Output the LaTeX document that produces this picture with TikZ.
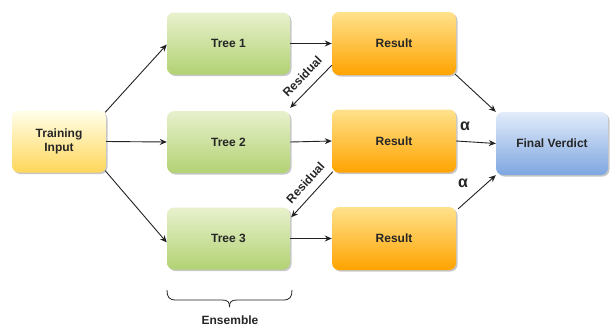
\documentclass[tikz,border=0pt]{standalone}
\usepackage{fontspec}
\setmainfont{Liberation Sans}
\usetikzlibrary{arrows.meta,shadows,calc}
\definecolor{edgec}{HTML}{222222}
\begin{document}
\begin{tikzpicture}[x=1pt,y=-1pt,
  box/.style={rounded corners=7pt, draw=none, font=\fontsize{12}{13.5}\selectfont\bfseries, text=black!85, align=center,
    drop shadow={shadow xshift=1.5pt,shadow yshift=-1.5pt,fill=black,opacity=0.22}},
  inbox/.style={box, minimum width=94pt, minimum height=62pt, top color=yellow!8!white, bottom color={rgb,255:red,255;green,214;blue,90}},
  treebox/.style={box, minimum width=123pt, minimum height=62pt, top color={rgb,255:red,232;green,241;blue,205}, bottom color={rgb,255:red,178;green,210;blue,115}},
  resbox/.style={box, minimum width=124pt, minimum height=63pt, top color={rgb,255:red,255;green,226;blue,140}, bottom color={rgb,255:red,255;green,163;blue,0}},
  finbox/.style={box, minimum width=112pt, minimum height=63pt, top color={rgb,255:red,226;green,236;blue,250}, bottom color={rgb,255:red,126;green,166;blue,224}},
  conn/.style={draw=edgec, line width=0.9pt, -{Stealth[length=7pt,width=6pt]}},
  lbl/.style={font=\fontsize{12}{13.5}\selectfont\bfseries, text=black!85},
  alph/.style={font=\fontsize{16}{17}\selectfont\bfseries, text=black!85},
  bracec/.style={draw=edgec, line width=0.8pt},
]
\useasboundingbox (0,0) rectangle (611,327);

\node[inbox] (train) at (59,141.5) {Training\\Input};
\node[treebox] (tree1) at (228.5,43.5) {Tree 1};
\node[treebox] (tree2) at (228.5,142) {Tree 2};
\node[treebox] (tree3) at (228.5,238.5) {Tree 3};
\node[resbox] (res1) at (394,43.5) {Result};
\node[resbox] (res2) at (394,141) {Result};
\node[resbox] (res3) at (394,238.5) {Result};
\node[finbox] (fin) at (552,143.5) {Final Verdict};

\draw[conn] ([xshift=-1pt,yshift=-2pt]train.north east) -- ([yshift=-1pt]tree1.west);
\draw[conn] (train.east) -- (tree2.west);
\draw[conn] ([xshift=-1pt,yshift=2pt]train.south east) -- ([yshift=-4pt]tree3.west);

\draw[conn] (tree1.east) -- (res1.west);
\draw[conn] (tree2.east) -- (res2.west);
\draw[conn] (tree3.east) -- (res3.west);

\draw[conn] ([yshift=10pt]res1.south west) -- node[lbl, sloped, above=7.5pt, pos=0.48, inner sep=1pt] {Residual} ([yshift=3pt]tree2.north east);
\draw[conn] ([xshift=1pt,yshift=1pt]res2.south west) -- node[lbl, sloped, above=7pt, pos=0.43, inner sep=1pt] {Residual} ([xshift=1pt,yshift=-10pt]tree3.north east);

\draw[conn] ([xshift=-1pt,yshift=1pt]res1.south east) -- (fin.north west);
\draw[conn] (res2.east) -- (fin.west);
\draw[conn] ([xshift=2pt,yshift=-2pt]res3.north east) -- (fin.south west);
\node[alph] (a1) at (465,126) {α};
\node[alph] (a2) at (463,183.5) {α};

\draw[bracec] (167,290) .. controls (167,297) and (169,300) .. (176,300) -- (222,300) .. controls (228,300) and (229.5,302) .. (229.5,307);
\draw[bracec] (292,290) .. controls (292,297) and (290,300) .. (283,300) -- (237,300) .. controls (231,300) and (229.5,302) .. (229.5,307);
\node[lbl] (ens) at (230,320) {Ensemble};
\end{tikzpicture}
\end{document}
